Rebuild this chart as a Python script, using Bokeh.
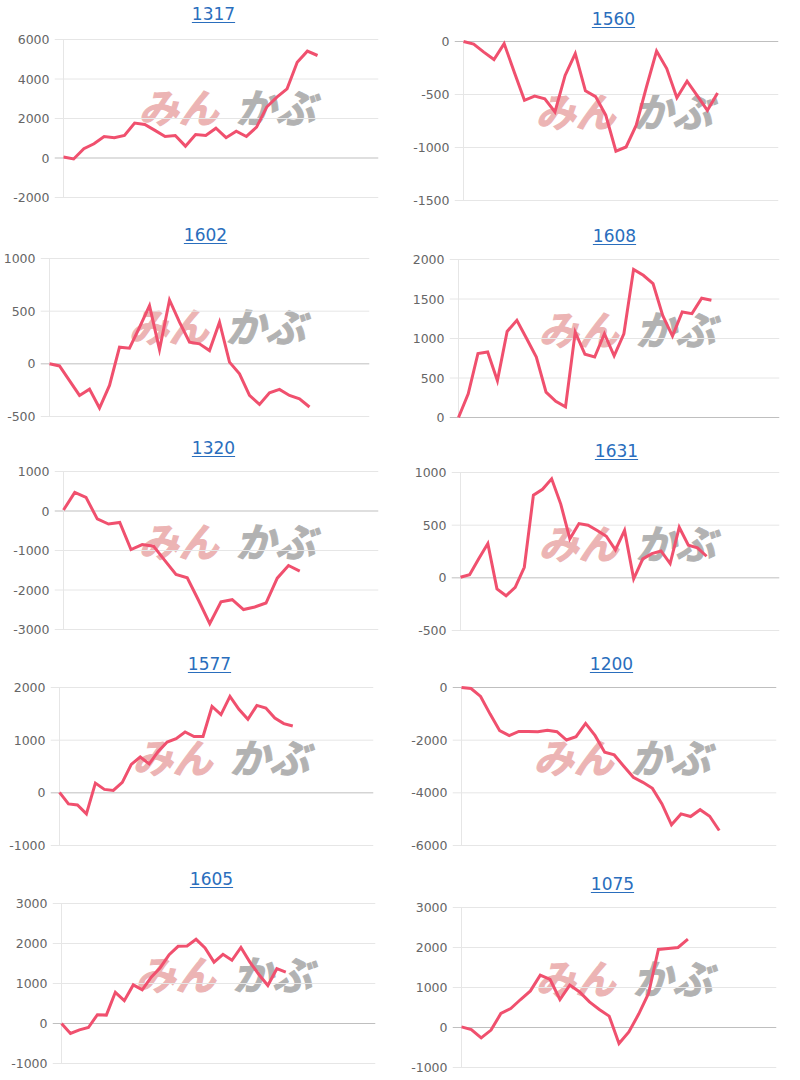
from bokeh.plotting import figure
from bokeh.layouts import column, row
from bokeh.models import Range1d, FixedTicker, PrintfTickFormatter
from bokeh.core.properties import value
from bokeh.embed import file_html
from bokeh.resources import INLINE

# ---------------- data ----------------
codes = ["1317", "1560", "1602", "1608", "1320", "1631", "1577", "1200", "1605", "1075"]

s1317 = [50, -50, 470, 720, 1090, 1030, 1140, 1770, 1700, 1400, 1090, 1140, 600, 1190, 1140,
         1510, 1030, 1360, 1090, 1560, 2580, 3080, 3500, 4850, 5410, 5190]
s1560 = [0, -25, -100, -170, -20, -290, -555, -515, -540, -665, -320, -115, -465, -520, -695,
         -1035, -995, -790, -430, -90, -255, -530, -375, -510, -650, -485]
s1602 = [0, -20, -160, -300, -240, -420, -205, 158, 148, 347, 553, 135, 606, 395, 205, 190,
         126, 395, 16, -95, -300, -385, -275, -243, -300, -332, -410]
s1608 = [0, 300, 810, 830, 465, 1090, 1230, 1000, 765, 320, 205, 135, 1080, 800, 765, 1060,
         780, 1060, 1875, 1800, 1695, 1290, 1030, 1335, 1315, 1510, 1485]
s1320 = [25, 470, 345, -200, -330, -290, -975, -850, -890, -1250, -1605, -1690, -2260, -2850,
         -2300, -2245, -2495, -2430, -2330, -1700, -1380, -1520]
s1631 = [5, 30, 180, 325, -105, -170, -90, 100, 785, 840, 940, 700, 370, 515, 500, 450, 395,
         265, 450, -10, 180, 230, 255, 135, 480, 310, 285, 205]
s1577 = [10, -210, -230, -400, 185, 65, 45, 200, 540, 680, 550, 785, 965, 1030, 1155, 1070,
         1070, 1640, 1485, 1830, 1585, 1395, 1660, 1610, 1420, 1315, 1270]
s1200 = [0, -40, -340, -1010, -1640, -1830, -1670, -1670, -1680, -1620, -1680, -1995, -1870,
         -1365, -1830, -2460, -2560, -2990, -3410, -3600, -3830, -4420, -5215, -4800, -4900,
         -4640, -4890, -5430]
s1605 = [0, -250, -160, -100, 220, 210, 780, 570, 965, 840, 1160, 1395, 1720, 1930, 1940, 2105,
         1890, 1535, 1730, 1580, 1900, 1535, 1225, 950, 1370, 1285]
s1075 = [15, -50, -260, -65, 350, 475, 700, 915, 1310, 1200, 700, 1060, 890, 640, 450, 285,
         -400, -110, 335, 850, 1950, 1975, 2000, 2210]

series = [s1317, s1560, s1602, s1608, s1320, s1631, s1577, s1200, s1605, s1075]

ticks_1317 = [-2000, 0, 2000, 4000, 6000]
ticks_1560 = [-1500, -1000, -500, 0]
ticks_1602 = [-500, 0, 500, 1000]
ticks_1608 = [0, 500, 1000, 1500, 2000]
ticks_1320 = [-3000, -2000, -1000, 0, 1000]
ticks_1631 = [-500, 0, 500, 1000]
ticks_1577 = [-1000, 0, 1000, 2000]
ticks_1200 = [-6000, -4000, -2000, 0]
ticks_1605 = [-1000, 0, 1000, 2000, 3000]
ticks_1075 = [-1000, 0, 1000, 2000, 3000]
ticks_all = [ticks_1317, ticks_1560, ticks_1602, ticks_1608, ticks_1320,
             ticks_1631, ticks_1577, ticks_1200, ticks_1605, ticks_1075]

# number of x slots spanned by each chart's axis
x_slots = [31, 31, 32, 33, 28, 35, 35, 33, 35, 32]

wm_left = "みん"
wm_right = "かぶ"

# ---------------- layout geometry (pixels inside each 400x216 panel) ----------------
# axis_x, right_x, top_tick_px, bottom_tick_px, title_cx, title_cy, wm_x, wm_cy
geom = [
    (63, 378, 39, 197, 213, 13, 138, 105),
    (63, 378, 41, 200, 213, 18, 135, 109),
    (49, 369, 42, 200, 205, 18, 128, 108),
    (58, 379, 43, 201, 214, 19, 138, 111),
    (63, 378, 39, 197, 213, 15, 138, 107),
    (60, 379, 40, 198, 216, 18, 138, 109),
    (59, 373, 39, 197, 209, 15, 132, 107),
    (61, 376, 39, 197, 211, 15, 133, 107),
    (61, 375, 39, 199, 211, 14, 135, 108),
    (61, 376, 43, 203, 212, 19, 135, 112),
]

W, H, TL = 400, 216, 9
LINE_COLOR = "#f0506e"
GRID = "#e6e6e6"
ZERO = "#bfbfbf"
TITLE_COLOR = "#2a6ebd"
WM_PINK = "#ecb4b4"
WM_GRAY = "#b2b2b2"


def make(i):
    ax, rx, tp, bp, tcx, tcy, wx, wy = geom[i]
    ticks = ticks_all[i]
    vals = series[i]
    ymin, ymax = ticks[0], ticks[-1]
    upp = (ymax - ymin) / (bp - tp)
    y_end = ymax + tp * upp
    y_start = y_end - H * upp
    upx = x_slots[i] / (rx - ax)
    x_start = -TL * upx
    x_end = x_slots[i]

    def X(px):
        return (px - ax) * upx

    def Y(py):
        return y_end - py * upp

    p = figure(width=W, height=H, output_backend="svg", toolbar_location=None, tools="",
               x_range=Range1d(x_start, x_end), y_range=Range1d(y_start, y_end),
               x_axis_location=None, min_border_left=ax - TL, min_border_right=W - rx,
               min_border_top=0, min_border_bottom=0, outline_line_color=None,
               background_fill_color="white", border_fill_color="white")
    p.title.visible = False
    p.xgrid.grid_line_color = None
    p.ygrid.grid_line_color = None

    ya = p.yaxis[0]
    ya.ticker = FixedTicker(ticks=ticks)
    ya.formatter = PrintfTickFormatter(format="%d")
    ya.axis_line_color = None
    ya.major_tick_line_color = None
    ya.minor_tick_line_color = None
    ya.major_tick_out = 0
    ya.major_tick_in = 0
    ya.major_label_standoff = 5
    ya.major_label_text_font = "DejaVu Sans"
    ya.major_label_text_font_size = "12.5px"
    ya.major_label_text_color = "#666666"

    # watermark (heavy italic logo text)
    p.text(x=[X(wx)], y=[Y(wy)], text=[wm_left], text_align="left", text_baseline="middle",
           text_font=value("Noto Sans CJK JP"), text_font_size="40px",
           text_font_style="bold italic", text_color=WM_PINK,
           text_outline_color=WM_PINK)
    p.text(x=[X(wx + 97)], y=[Y(wy)], text=[wm_right], text_align="left", text_baseline="middle",
           text_font=value("Noto Sans CJK JP"), text_font_size="40px",
           text_font_style="bold italic", text_color=WM_GRAY,
           text_outline_color=WM_GRAY)

    # grid lines (with tick marks extending left of the axis)
    for t in ticks:
        col = ZERO if t == 0 else GRID
        p.segment(x0=[x_start], x1=[x_end], y0=[t], y1=[t], line_color=col, line_width=1)
    # vertical axis line
    p.segment(x0=[0], x1=[0], y0=[ymin], y1=[ymax], line_color=GRID, line_width=1)

    # data line
    xs = list(range(len(vals)))
    p.line(xs, vals, line_color=LINE_COLOR, line_width=3, line_join="miter")

    # title (underlined link style)
    code = codes[i]
    p.text(x=[X(tcx)], y=[Y(tcy)], text=[code], text_align="center", text_baseline="middle",
           text_font=value("DejaVu Sans"), text_font_size="17px", text_color=TITLE_COLOR)
    tw = len(code) * 0.636 * 17
    p.segment(x0=[X(tcx - tw / 2)], x1=[X(tcx + tw / 2)], y0=[Y(tcy + 9)], y1=[Y(tcy + 9)],
              line_color=TITLE_COLOR, line_width=1)
    return p


figs = [make(i) for i in range(len(codes))]
layout = column(*[row(figs[2 * r], figs[2 * r + 1]) for r in range(5)])

open("out.html", "w").write(file_html(layout, INLINE))
